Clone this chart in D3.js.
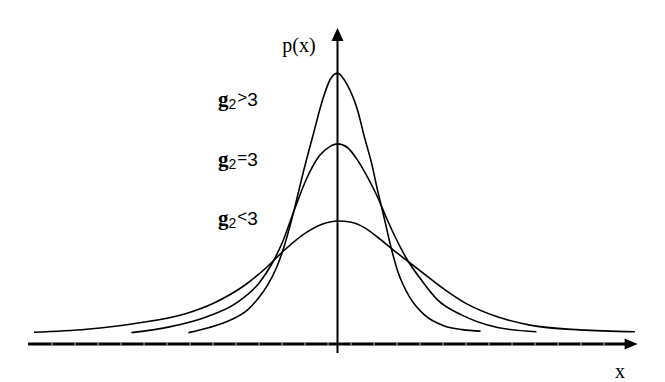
<!DOCTYPE html>
<html>
<head>
<meta charset="utf-8">
<script src="https://cdn.jsdelivr.net/npm/d3@7"></script>
<style>
  body { margin: 0; background: #fff; }
  svg { display: block; }
  .curve { fill: none; stroke: #000; stroke-width: 1.6px; }
  .axis-line { stroke: #000; }
  .tick-mark { stroke: #c8c8c8; stroke-width: 1px; }
  .serif { font-family: "Liberation Serif", "DejaVu Serif", serif; }
  .lbl { font-family: "Liberation Sans", Arial, sans-serif; }
</style>
</head>
<body>
<svg id="chart" width="665" height="382"></svg>
<script>
// curves (x in tick units, p in arbitrary height units)
const tallX = [-6.48, -5.57, -4.65, -3.91, -3.52, -3.04, -2.65, -2.35, -2.07, -1.78, -1.48, -1.04, -0.61, -0.33, 0,
  0.43, 0.87, 1.17, 1.48, 1.74, 2.04, 2.26, 2.63, 3.13, 3.78, 4.65, 5.43, 6.22];
const tallP = [0.038, 0.055, 0.080, 0.114, 0.145, 0.196, 0.255, 0.318, 0.392, 0.480, 0.575, 0.703, 0.823, 0.880, 0.903,
  0.863, 0.780, 0.690, 0.603, 0.513, 0.417, 0.343, 0.240, 0.157, 0.097, 0.060, 0.048, 0.043];

const midX = [-8.96, -7.26, -5.83, -4.39, -3.39, -2.87, -2.39, -1.91, -1.35, -0.78, -0.35, 0,
  0.43, 0.87, 1.30, 1.74, 2.13, 2.52, 3.00, 3.65, 4.35, 5.39, 6.96, 8.65];
const midP = [0.038, 0.058, 0.087, 0.137, 0.205, 0.265, 0.340, 0.440, 0.550, 0.628, 0.657, 0.667,
  0.655, 0.613, 0.557, 0.490, 0.420, 0.355, 0.285, 0.213, 0.147, 0.097, 0.055, 0.041];

const wideX = [-13.2, -10.91, -8.74, -6.57, -5.39, -3.96, -3.09, -2.35, -1.35, -0.48, 0,
  0.61, 1.17, 1.76, 2.35, 3.07, 3.78, 4.65, 5.52, 6.98, 8.37, 10.54, 12.93];
const wideP = [0.039, 0.049, 0.069, 0.102, 0.136, 0.200, 0.255, 0.310, 0.372, 0.404, 0.410,
  0.406, 0.388, 0.355, 0.318, 0.275, 0.233, 0.182, 0.138, 0.090, 0.063, 0.047, 0.041];

const curveNames = ["g2>3", "g2=3", "g2<3"];
const labelRel = [">", "=", "<"];
const labelP = [0.793, 0.593, 0.397];

const tickPos = [-12.41, -11.41, -10.41, -9.41, -8.41, -7.41, -6.41, -5.41, -4.41, -3.41, -2.41, -1.41, -0.41,
  0.59, 1.59, 2.59, 3.59, 4.59, 5.59, 6.59, 7.59, 8.59, 9.59, 10.59, 11.59];

const svg = d3.select("#chart");

const x = d3.scaleLinear().domain([-13, 13]).range([38.5, 636.5]);
const y = d3.scaleLinear().domain([0, 1]).range([344, 44]);

// horizontal axis
const xMin = -13.45, xMax = 13.05;
svg.append("line")
  .attr("class", "axis-line")
  .attr("x1", x(xMin)).attr("x2", x(xMax) - 10)
  .attr("y1", y(0)).attr("y2", y(0))
  .attr("stroke-width", 3);

svg.selectAll(".tick-mark")
  .data(tickPos)
  .enter()
  .append("line")
  .attr("class", "tick-mark")
  .attr("x1", d => x(d)).attr("x2", d => x(d))
  .attr("y1", y(0) - 1.5).attr("y2", y(0) + 1.5);

svg.append("path")
  .attr("d", `M${x(xMax)},${y(0)} L${x(xMax) - 13},${y(0) - 5.5} L${x(xMax) - 13},${y(0) + 5.5} Z`)
  .attr("fill", "#000");

// vertical axis
const pMin = -0.03, pMax = 1.053;
svg.append("line")
  .attr("class", "axis-line")
  .attr("x1", x(0)).attr("x2", x(0))
  .attr("y1", y(pMin)).attr("y2", y(pMax) + 10)
  .attr("stroke-width", 2);

svg.append("path")
  .attr("d", `M${x(0)},${y(pMax)} L${x(0) - 6},${y(pMax) + 13} L${x(0) + 6},${y(pMax) + 13} Z`)
  .attr("fill", "#000");

// curves
const line = d3.line()
  .x(d => x(d[0]))
  .y(d => y(d[1]))
  .curve(d3.curveMonotoneX);

const series = [
  d3.zip(tallX, tallP),
  d3.zip(midX, midP),
  d3.zip(wideX, wideP),
];

svg.selectAll(".curve")
  .data(series)
  .enter()
  .append("path")
  .attr("class", "curve")
  .attr("d", line);

// labels
const labels = svg.selectAll(".g2")
  .data(curveNames)
  .enter()
  .append("text")
  .attr("class", "g2")
  .attr("x", 218)
  .attr("y", (d, i) => y(labelP[i]));

labels.append("tspan")
  .attr("class", "serif")
  .attr("font-weight", "bold")
  .attr("font-size", 21)
  .text("g");
labels.append("tspan")
  .attr("class", "lbl")
  .attr("font-size", 14)
  .attr("dy", 3)
  .text("2");
labels.append("tspan")
  .attr("class", "lbl")
  .attr("font-size", 17)
  .attr("font-weight", 300)
  .attr("dy", -6)
  .attr("dx", 1)
  .text((d, i) => labelRel[i]);
labels.append("tspan")
  .attr("class", "lbl")
  .attr("font-size", 19)
  .attr("dy", 3)
  .text("3");

svg.append("text")
  .attr("class", "serif")
  .attr("x", 299)
  .attr("y", 52)
  .attr("text-anchor", "middle")
  .attr("font-size", 20)
  .text("p(x)");

svg.append("text")
  .attr("class", "serif")
  .attr("x", 620)
  .attr("y", 378)
  .attr("text-anchor", "middle")
  .attr("font-size", 20)
  .text("x");
</script>
</body>
</html>
